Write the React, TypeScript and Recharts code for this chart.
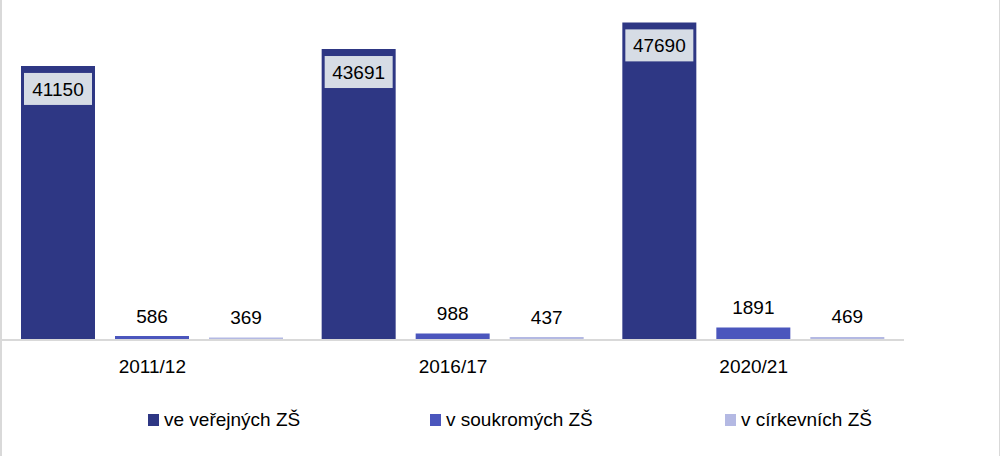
import { BarChart, Bar, XAxis, YAxis, Legend, LabelList } from "recharts";

const years = ["2011/12", "2016/17", "2020/21"];
const verejne = [41150, 43691, 47690];
const soukrome = [586, 988, 1891];
const cirkevni = [369, 437, 469];

const seriesNames = ["ve veřejných ZŠ", "v soukromých ZŠ", "v církevních ZŠ"];
const colors = ["#2e3784", "#4b56bd", "#b4b9e3"];

const data = years.map((year, i) => ({
  year,
  verejne: verejne[i],
  soukrome: soukrome[i],
  cirkevni: cirkevni[i],
}));

const numFont = "'Liberation Sans', Arial, sans-serif";

function BoxLabel(props: any) {
  const { x, y, width, value } = props;
  const cx = x + width / 2;
  const w = 68;
  const h = 32;
  return (
    <g>
      <rect x={cx - w / 2} y={y + 7} width={w} height={h} fill="#d6dce5" />
      <text x={cx} y={y + 7 + h / 2} dy="0.36em" textAnchor="middle" fontSize={19} fontFamily={numFont} fill="#000">
        {value}
      </text>
    </g>
  );
}

function TopLabel(props: any) {
  const { x, y, width, value } = props;
  return (
    <text x={x + width / 2} y={y - 13.5} textAnchor="middle" fontSize={19} fontFamily={numFont} fill="#000">
      {value}
    </text>
  );
}

const legendLeft = [148, 430, 725];

function LegendContent() {
  return (
    <div style={{ position: "relative", height: 24 }}>
      {seriesNames.map((name, i) => (
        <div
          key={name}
          style={{
            position: "absolute",
            left: legendLeft[i],
            top: 0,
            height: 24,
            display: "flex",
            alignItems: "center",
            fontFamily: numFont,
            fontSize: 19,
            color: "#000",
            whiteSpace: "nowrap",
          }}
        >
          <span style={{ display: "inline-block", width: 11, height: 12, background: colors[i], marginRight: 5 }} />
          {name}
        </div>
      ))}
    </div>
  );
}

export default function App() {
  return (
    <div
      style={{
        position: "absolute",
        left: 0,
        top: 0,
        width: 1000,
        height: 456,
        boxSizing: "border-box",
        borderLeft: "2px solid #d9d9d9",
        borderRight: "1px solid #d9d9d9",
        background: "#fff",
      }}
    >
      <BarChart
        width={997}
        height={456}
        data={data}
        margin={{ top: 7, right: 95, bottom: 76, left: 0 }}
        barGap={20}
      >
        <XAxis
          dataKey="year"
          height={40}
          axisLine={{ stroke: "#d9d9d9", strokeWidth: 2 }}
          tickLine={false}
          tickSize={0}
          tickMargin={20}
          tick={{ fill: "#000", fontSize: 19, fontFamily: numFont }}
        />
        <YAxis hide domain={[0, 50000]} />
        <Legend
          verticalAlign="middle"
          align="center"
          layout="horizontal"
          content={<LegendContent />}
          wrapperStyle={{ top: 408, left: -2, width: 1000, height: 24 }}
        />
        <Bar dataKey="verejne" name={seriesNames[0]} fill={colors[0]} barSize={74} isAnimationActive={false}>
          <LabelList dataKey="verejne" content={<BoxLabel />} />
        </Bar>
        <Bar dataKey="soukrome" name={seriesNames[1]} fill={colors[1]} barSize={74} isAnimationActive={false}>
          <LabelList dataKey="soukrome" content={<TopLabel />} />
        </Bar>
        <Bar dataKey="cirkevni" name={seriesNames[2]} fill={colors[2]} barSize={74} isAnimationActive={false}>
          <LabelList dataKey="cirkevni" content={<TopLabel />} />
        </Bar>
      </BarChart>
    </div>
  );
}
